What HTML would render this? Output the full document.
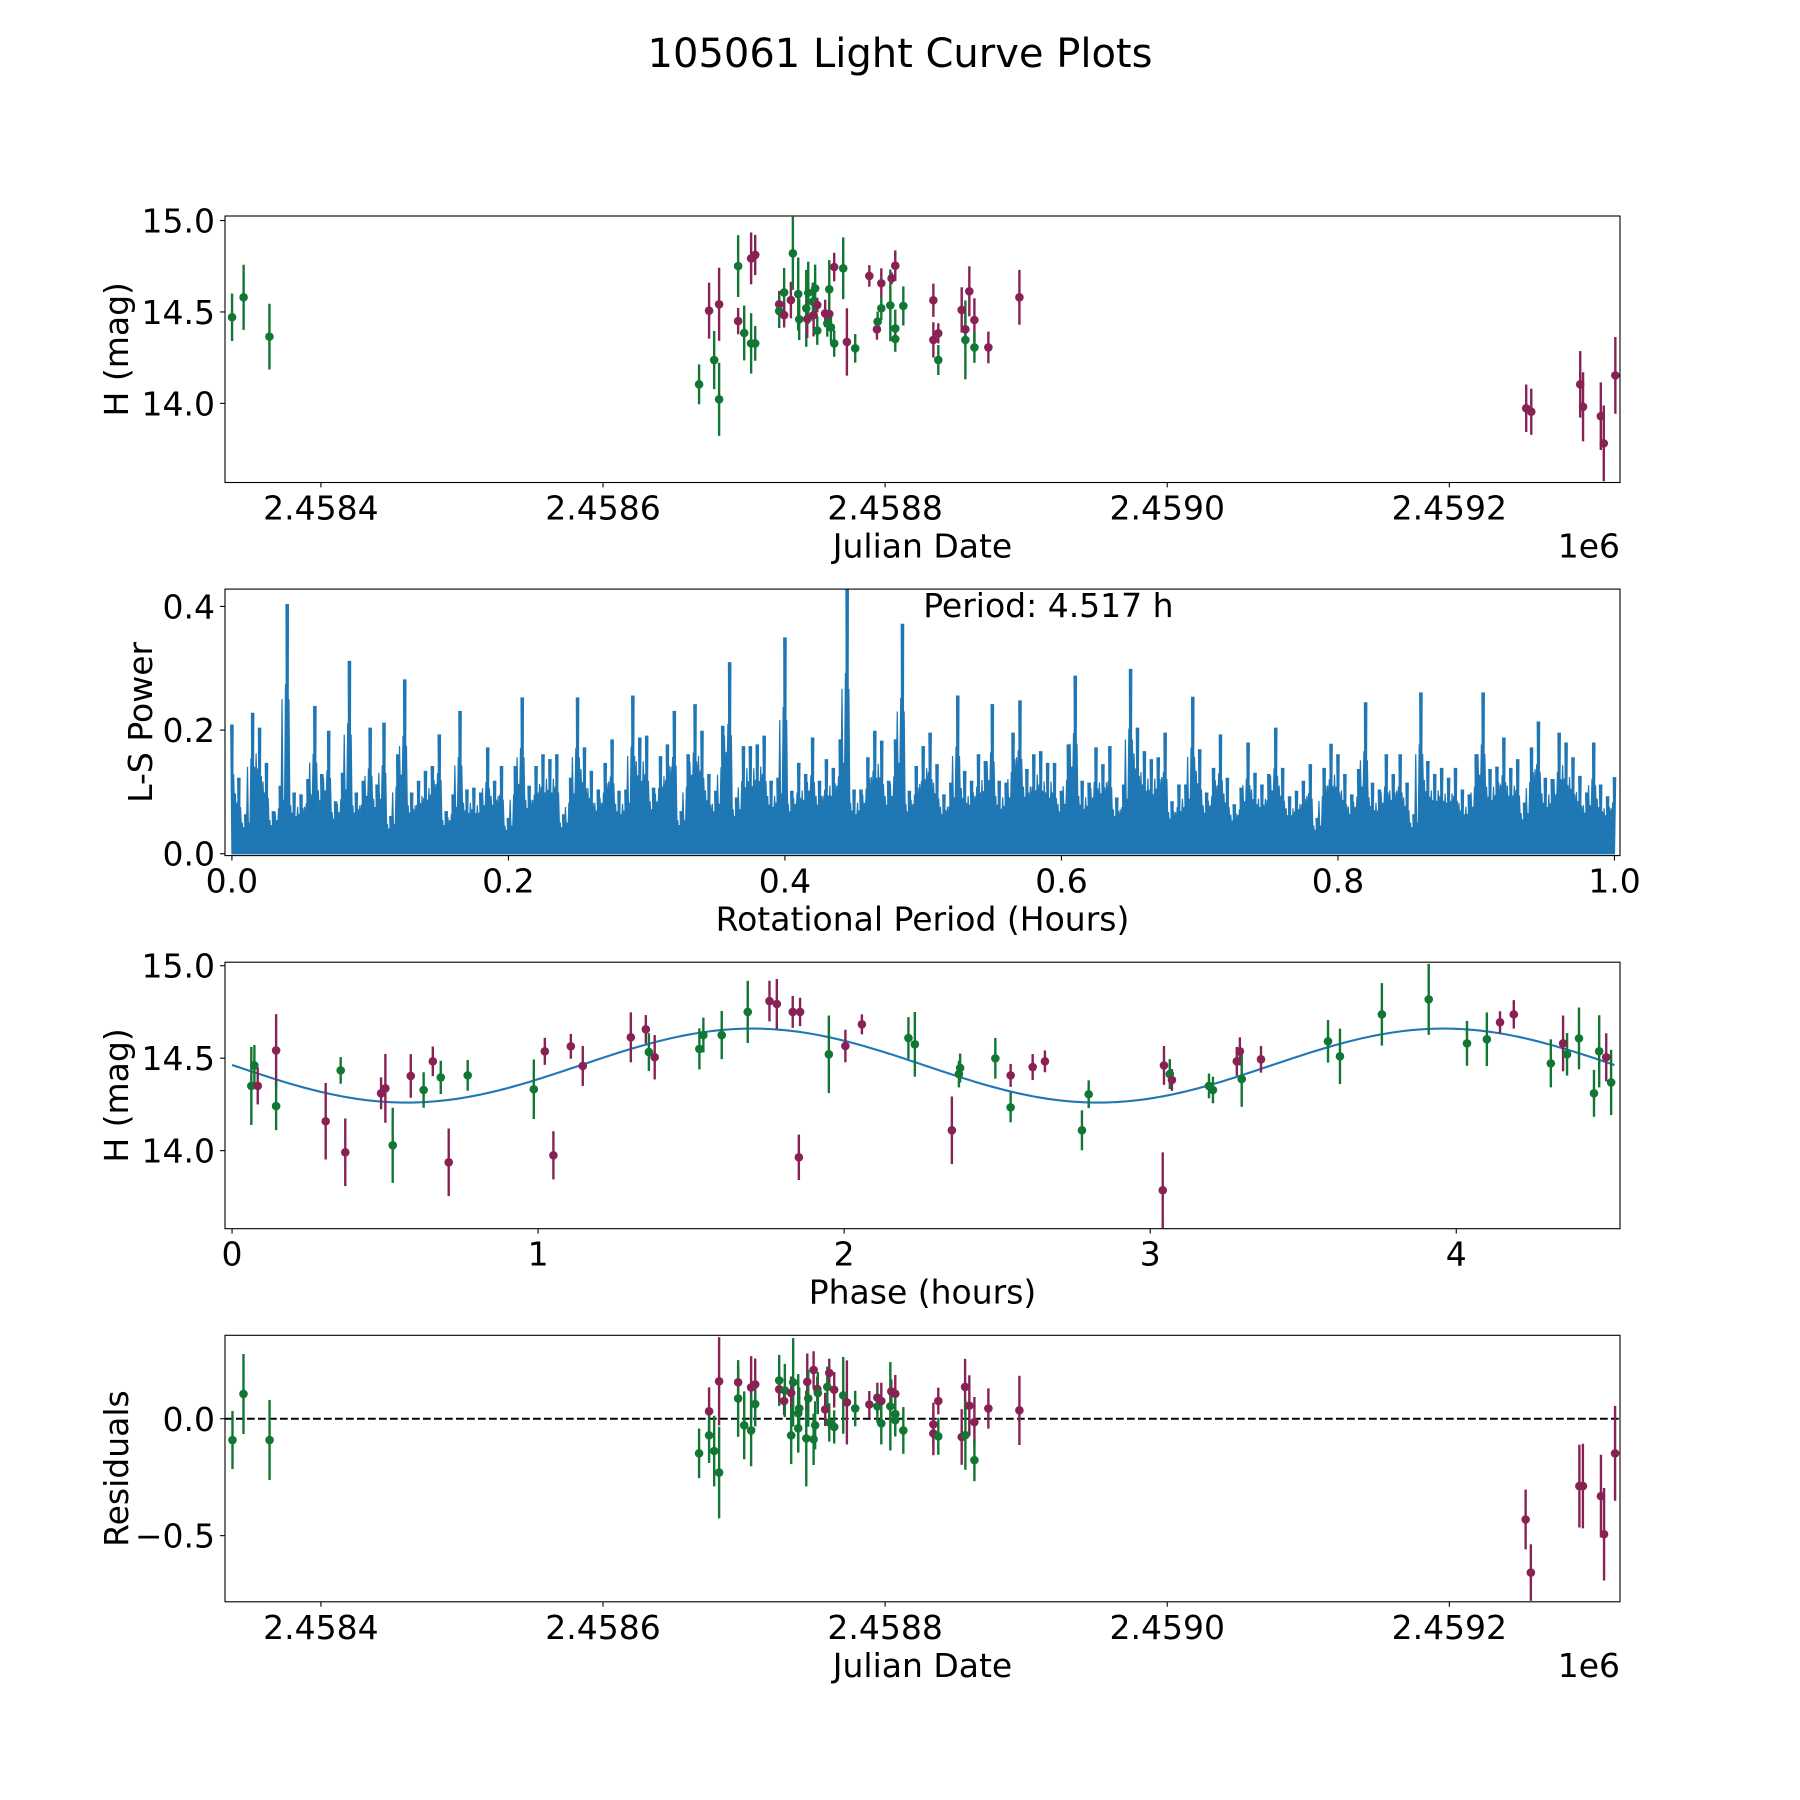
<!DOCTYPE html>
<html><head><meta charset="utf-8"><title>105061 Light Curve Plots</title>
<style>html,body{margin:0;padding:0;background:#fff}svg{display:block}text{font-family:"DejaVu Sans","Liberation Sans",sans-serif;fill:#000}</style>
</head><body>
<svg id="fig" width="1800" height="1800" viewBox="0 0 1800 1800" xmlns="http://www.w3.org/2000/svg">
<rect x="0" y="0" width="1800" height="1800" fill="#fff"/>
<text x="900" y="67" font-size="40" text-anchor="middle">105061 Light Curve Plots</text>
</svg>
<script>
// ---- Panel 1: light curve vs Julian Date (days offset from 2458000) ----
const p1Jd=[337.0,345.2,363.5,668.1,675.2,678.8,682.3,682.3,695.8,695.8,700.1,705,707.9,705,707.9,724.9,724.9,728.4,728.4,733.2,734.6,738.4,739.1,744.1,744.8,745.5,749.3,748.8,750.4,751.9,751.9,757.5,760.4,759,761.6,760.4,763.9,763.9,770.3,772.9,778.8,788.8,797.3,794.2,794.7,797.3,804.6,807.2,803.7,807.2,807.2,812.9,834.2,834.2,837.7,837.7,854.3,859.7,856.9,856.9,863.3,863.3,873.2,895.2,1254.5,1258.1,1292.8,1294.8,1307.4,1309.5,1317.7];
const p1Mag=[14.471,14.580,14.365,14.104,14.507,14.237,14.542,14.022,14.751,14.450,14.385,14.793,14.812,14.328,14.328,14.542,14.505,14.607,14.483,14.565,14.821,14.598,14.460,14.520,14.461,14.605,14.483,14.556,14.629,14.538,14.398,14.492,14.489,14.438,14.416,14.624,14.746,14.328,14.739,14.336,14.301,14.697,14.657,14.405,14.447,14.520,14.684,14.753,14.536,14.410,14.352,14.533,14.564,14.347,14.383,14.237,14.511,14.613,14.405,14.347,14.456,14.306,14.306,14.580,13.973,13.954,14.104,13.981,13.930,13.781,14.153];
const p1Err=[0.130,0.178,0.18,0.109,0.153,0.159,0.2,0.2,0.169,0.072,0.15,0.142,0.11,0.165,0.095,0.073,0.093,0.134,0.068,0.1,0.2,0.2,0.114,0.21,0.103,0.17,0.117,0.105,0.13,0.04,0.078,0.075,0.077,0.073,0.08,0.16,0.078,0.073,0.169,0.184,0.078,0.059,0.082,0.057,0.055,0.064,0.032,0.084,0.196,0.103,0.07,0.107,0.091,0.097,0.055,0.082,0.124,0.137,0.096,0.216,0.119,0.084,0.087,0.15,0.13,0.126,0.182,0.189,0.185,0.207,0.21];
const p1Band=["g","g","g","g","r","g","r","g","g","r","g","r","r","g","g","r","g","g","r","r","g","g","g","g","r","g","r","g","g","r","g","r","r","g","g","g","r","g","g","r","g","r","r","r","g","g","r","r","g","g","g","g","r","r","r","g","r","r","r","g","r","g","r","r","r","r","r","r","r","r","r"];
const p1XTicks=[400,600,800,1000,1200];
const p1XTickLabels=["2.4584","2.4586","2.4588","2.4590","2.4592"];
const p1YTicks=[14.0,14.5,15.0];
const p1YTickLabels=["14.0","14.5","15.0"];

// ---- Panel 2: Lomb-Scargle periodogram envelope, sampled every 0.005 h ----
const p2Step=0.005;
const p2Power=[0.208,0.122,0.063,0.227,0.203,0.146,0.068,0.109,0.403,0.098,0.095,0.12,0.238,0.128,0.198,0.084,0.13,0.311,0.098,0.117,0.203,0.111,0.211,0.06,0.16,0.281,0.098,0.117,0.133,0.141,0.192,0.068,0.095,0.23,0.103,0.106,0.098,0.171,0.117,0.141,0.057,0.141,0.252,0.109,0.141,0.16,0.152,0.16,0.063,0.122,0.252,0.171,0.133,0.103,0.146,0.184,0.101,0.103,0.255,0.187,0.19,0.106,0.157,0.176,0.23,0.068,0.16,0.241,0.198,0.128,0.101,0.206,
0.309,0.09,0.173,0.173,0.176,0.19,0.117,0.122,0.349,0.101,0.146,0.128,0.187,0.117,0.152,0.138,0.184,0.43,0.103,0.103,0.155,0.198,0.182,0.117,0.184,0.371,0.101,0.141,0.173,0.195,0.144,0.095,0.114,0.255,0.133,0.117,0.16,0.149,0.241,0.117,0.114,0.195,0.247,0.136,0.16,0.165,0.146,0.146,0.101,0.176,0.287,0.117,0.114,0.171,0.144,0.173,0.09,0.111,0.298,0.203,0.165,0.152,0.155,0.195,0.084,0.111,0.111,0.253,0.168,0.098,0.138,0.192,
0.122,0.079,0.106,0.179,0.13,0.111,0.128,0.203,0.138,0.092,0.101,0.117,0.144,0.057,0.138,0.177,0.16,0.128,0.095,0.136,0.244,0.114,0.103,0.16,0.128,0.16,0.114,0.063,0.26,0.149,0.128,0.138,0.122,0.138,0.103,0.095,0.16,0.26,0.136,0.14,0.187,0.138,0.152,0.082,0.171,0.213,0.122,0.12,0.195,0.179,0.155,0.125,0.098,0.179,0.111,0.092,0.123];
const p2XTicks=[0,0.2,0.4,0.6,0.8,1.0];
const p2XTickLabels=["0.0","0.2","0.4","0.6","0.8","1.0"];
const p2YTicks=[0,0.2,0.4];
const p2YTickLabels=["0.0","0.2","0.4"];
const p2Annotation="Period: 4.517 h";

// ---- Panel 3: folded light curve ----
const p3Phase=[0.063,0.073,0.084,0.144,0.144,0.306,0.370,0.355,0.487,0.501,0.525,0.584,0.626,0.656,0.682,0.708,0.770,0.986,1.022,1.050,1.107,1.146,1.303,1.352,1.362,1.381,1.527,1.540,1.600,1.685,1.756,1.780,1.832,1.856,1.852,1.950,2.004,2.058,2.210,2.231,2.352,2.375,2.379,2.494,2.544,2.544,2.616,2.656,2.777,2.799,3.041,3.045,3.064,3.071,3.192,3.205,3.283,3.293,3.299,3.362,3.581,3.620,3.757,3.910,4.035,4.100,4.143,4.188,4.309,4.349,4.362,4.401,4.450,4.467,4.490,4.506];
const p3Mag=[14.350,14.461,14.350,14.542,14.241,14.159,13.991,14.434,14.310,14.337,14.029,14.404,14.328,14.483,14.396,13.937,14.407,14.332,14.537,13.975,14.564,14.458,14.613,14.656,14.533,14.505,14.550,14.625,14.625,14.750,14.809,14.793,14.750,14.750,13.964,14.521,14.566,14.683,14.609,14.575,14.110,14.414,14.447,14.499,14.407,14.234,14.452,14.483,14.110,14.305,13.786,14.461,14.414,14.382,14.350,14.328,14.483,14.537,14.387,14.494,14.591,14.510,14.737,14.818,14.580,14.602,14.694,14.737,14.472,14.580,14.521,14.607,14.310,14.537,14.505,14.369];
const p3Err=[0.211,0.11,0.1,0.196,0.13,0.207,0.183,0.072,0.086,0.186,0.203,0.118,0.096,0.08,0.09,0.183,0.083,0.161,0.073,0.13,0.067,0.108,0.135,0.077,0.102,0.12,0.111,0.094,0.13,0.168,0.11,0.135,0.086,0.077,0.123,0.21,0.088,0.054,0.113,0.175,0.183,0.072,0.078,0.11,0.062,0.081,0.07,0.059,0.108,0.075,0.205,0.105,0.081,0.059,0.067,0.072,0.078,0.076,0.15,0.072,0.115,0.15,0.169,0.192,0.121,0.145,0.06,0.077,0.13,0.151,0.115,0.167,0.127,0.195,0.13,0.176];
const p3Band=["g","g","r","r","g","r","r","g","r","r","g","r","g","r","g","r","g","g","r","r","r","r","r","r","g","r","g","g","g","g","r","r","r","r","r","g","r","r","g","g","r","g","g","g","r","g","r","r","g","g","r","r","g","r","g","g","r","r","g","r","g","g","g","g","g","g","r","r","g","r","g","g","g","g","r","g"];
const fitMean=14.46, fitAmp=0.2, fitPeakPhase=1.70, fitPeriod=4.517;
const p3XTicks=[0,1,2,3,4];
const p3XTickLabels=["0","1","2","3","4"];
const p3YTicks=[14.0,14.5,15.0];
const p3YTickLabels=["14.0","14.5","15.0"];

// ---- Panel 4: residuals vs Julian Date ----
const p4Jd=[337.3,345.1,363.6,668.1,675.2,675.2,678.8,682.3,682.3,695.8,695.8,700.1,705,707.9,705,707.9,724.9,724.9,728.4,728.9,733.4,734.8,733.4,738.4,738.4,739.1,744.1,744.8,745.5,749.3,749.3,750.4,751.9,752.3,757.5,760.4,759,760.4,763.9,763.9,770.3,772.9,778.8,788.8,794.5,794.5,797.3,797.3,804.4,807.2,803.7,807.2,807.2,812.9,834.2,834.2,837.7,837.7,854.3,856.7,859.7,856.9,863.3,863.3,873.2,895.2,1254.1,1257.8,1292.2,1294.7,1307.5,1309.7,1317.5];
const p4Res=[-0.091,0.106,-0.091,-0.148,0.032,-0.071,-0.138,0.160,-0.230,0.156,0.087,-0.028,0.134,0.147,-0.050,0.063,0.164,0.126,0.076,0.121,0.110,0.156,-0.071,0.023,-0.041,0.044,-0.084,0.158,0.087,0.209,-0.088,-0.028,0.127,0.110,0.040,0.196,0.136,-0.016,-0.035,0.124,0.100,0.070,0.044,0.061,0.090,0.053,0.076,-0.020,0.117,0.107,0.053,0.020,-0.006,-0.050,-0.024,-0.063,0.076,-0.075,-0.078,0.136,0.056,-0.070,-0.014,-0.177,0.044,0.036,-0.431,-0.658,-0.288,-0.288,-0.331,-0.494,-0.148];
const p4Err=[0.124,0.171,0.171,0.106,0.102,0.118,0.151,0.189,0.196,0.07,0.164,0.145,0.134,0.111,0.153,0.096,0.109,0.053,0.061,0.114,0.071,0.189,0.123,0.168,0.1,0.09,0.205,0.121,0.121,0.08,0.11,0.103,0.053,0.09,0.071,0.061,0.087,0.082,0.071,0.076,0.164,0.18,0.076,0.058,0.064,0.07,0.078,0.09,0.051,0.08,0.189,0.088,0.07,0.1,0.093,0.093,0.057,0.079,0.119,0.12,0.13,0.148,0.107,0.09,0.086,0.148,0.128,0.121,0.177,0.181,0.177,0.198,0.203];
const p4Band=["g","g","g","g","r","g","g","r","g","r","g","g","r","r","g","g","g","r","r","g","r","g","g","g","g","g","g","r","g","r","g","g","r","g","r","r","g","g","g","r","g","r","g","r","r","g","r","g","r","r","g","g","g","g","r","r","r","g","r","r","r","g","r","g","r","r","r","r","r","r","r","r","r"];
const p4YTicks=[-0.5,0.0];
const p4YTickLabels=["\u22120.5","0.0"];

const NS="http://www.w3.org/2000/svg";
const svg=document.getElementById('fig');
const COL={g:"#117733",r:"#882255"};
const AX_L=225, AX_R=1620, AX_H=266.5;
const tops=[216,589.1,962.2,1335.3];
function mk(tag,attrs,parent){const e=document.createElementNS(NS,tag);for(const k in attrs)e.setAttribute(k,attrs[k]);(parent||svg).appendChild(e);return e;}
function lin(d0,d1,r0,r1){return v=>r0+(v-d0)/(d1-d0)*(r1-r0);}

function axesFrame(i,xs,ys,xt,xtl,yt,ytl,xlabel,ylabel,ylabX,offsetText){
  const top=tops[i],bot=top+AX_H;
  const g=mk('g',{});
  
  
  xt.forEach((v,j)=>{
    const x=xs(v);
    const t=mk('line',{x1:x,x2:x,y1:bot,y2:bot+4.9,stroke:'#000','stroke-width':1.1},g);
    
    
    const l=mk('text',{x:x,y:bot+37,'font-size':33,'text-anchor':'middle'},g);
    
    
    l.textContent=xtl[j];
  });
  yt.forEach((v,j)=>{
    const y=ys(v);
    const t=mk('line',{x1:AX_L-4.9,x2:AX_L,y1:y,y2:y,stroke:'#000','stroke-width':1.1},g);
    
    
    const l=mk('text',{x:AX_L-10,y:y+12,'font-size':33,'text-anchor':'end'},g);
    
    
    l.textContent=ytl[j];
  });
  const xl=mk('text',{x:(AX_L+AX_R)/2,y:bot+75,'font-size':33,'text-anchor':'middle'},g);
  
  
  xl.textContent=xlabel;
  const yl=mk('text',{x:0,y:0,'font-size':33,'text-anchor':'middle',transform:'translate('+ylabX+','+(top+AX_H/2)+') rotate(-90)'},g);
  
  
  yl.textContent=ylabel;
  if(offsetText){
    const o=mk('text',{x:AX_R,y:bot+75,'font-size':33,'text-anchor':'end'},g);
    
    
    o.textContent=offsetText;
  }
  return g;
}
function spine(i){
  const r=mk('rect',{x:AX_L,y:tops[i],width:AX_R-AX_L,height:AX_H,fill:'none',stroke:'#000','stroke-width':1.1});
  
  
}
function clip(i){
  const c=mk('clipPath',{id:'clip'+i});
  mk('rect',{x:AX_L,y:tops[i],width:AX_R-AX_L,height:AX_H},c);
  const g=mk('g',{'clip-path':'url(#clip'+i+')'});
  return g;
}
function errPoints(g,xs,ys,X,Y,E,B,name){
  X.forEach((xv,j)=>{
    const x=xs(xv),c=COL[B[j]];
    const b=mk('line',{x1:x,x2:x,y1:ys(Y[j]-E[j]),y2:ys(Y[j]+E[j]),stroke:c,'stroke-width':2.4},g);
    
    
  });
  X.forEach((xv,j)=>{
    const p=mk('circle',{cx:xs(xv),cy:ys(Y[j]),r:4.3,fill:COL[B[j]]},g);
    
    
  });
}

// Panel 1
{
  const top=tops[0],xs=lin(332,1321,AX_L,AX_R),ys=lin(15.025,13.567,top,top+AX_H);
  const g=clip(0);
  errPoints(g,xs,ys,p1Jd,p1Mag,p1Err,p1Band,'lightcurve');
  axesFrame(0,xs,ys,p1XTicks,p1XTickLabels,p1YTicks,p1YTickLabels,'Julian Date','H (mag)',128,'1e6');
  spine(0);
}
// Panel 2
{
  const top=tops[1],xs=lin(-0.005,1.004,AX_L,AX_R),ys=lin(0.428,-0.003,top,top+AX_H);
  const g=clip(1);
  let d='M'+xs(0)+' '+ys(0);
  for(let k=0;k<p2Power.length;k++){
    const xc=xs(k*p2Step),yv=ys(p2Power[k]);
    d+=' L'+(xc-1.2)+' '+yv+' L'+(xc+1.2)+' '+yv;
    if(k<p2Power.length-1){
      const a=p2Power[k],b=p2Power[k+1],vm=Math.min(a,b);
      const x1=xs((k+0.25)*p2Step),x2=xs((k+0.5)*p2Step),x3=xs((k+0.75)*p2Step);
      d+=' L'+(x1-1)+' '+ys(vm*0.55)+' L'+x1+' '+ys(Math.max(a,b)*0.62)+' L'+(x1+1)+' '+ys(vm*0.55);
      d+=' L'+(x2-1)+' '+ys(vm*0.45)+' L'+x2+' '+ys(vm*0.8)+' L'+(x2+1)+' '+ys(vm*0.45);
      d+=' L'+(x3-1)+' '+ys(vm*0.55)+' L'+x3+' '+ys(b*0.68)+' L'+(x3+1)+' '+ys(vm*0.55);
    }
  }
  d+=' L'+xs((p2Power.length-1)*p2Step)+' '+ys(0)+' Z';
  const p=mk('path',{d:d,fill:'#1f77b4',stroke:'#1f77b4','stroke-width':1.2,'stroke-linejoin':'miter'},g);
  
  
  const t=mk('text',{x:xs(0.5),y:617,'font-size':33});
  
  
  t.textContent=p2Annotation;
  axesFrame(1,xs,ys,p2XTicks,p2XTickLabels,p2YTicks,p2YTickLabels,'Rotational Period (Hours)','L-S Power',152,null);
  spine(1);
}
// Panel 3
{
  const top=tops[2],xs=lin(-0.023,4.535,AX_L,AX_R),ys=lin(15.019,13.578,top,top+AX_H);
  const g=clip(2);
  let d='';
  for(let k=0;k<=300;k++){
    const ph=fitPeriod*k/300;
    const m=fitMean+fitAmp*Math.cos(2*Math.PI*(ph-fitPeakPhase)/(fitPeriod/2));
    d+=(k?' L':'M')+xs(ph)+' '+ys(m);
  }
  const l=mk('path',{d:d,fill:'none',stroke:'#1f77b4','stroke-width':2.1},g);
  
  
  errPoints(g,xs,ys,p3Phase,p3Mag,p3Err,p3Band,'folded');
  axesFrame(2,xs,ys,p3XTicks,p3XTickLabels,p3YTicks,p3YTickLabels,'Phase (hours)','H (mag)',128,null);
  spine(2);
}
// Panel 4
{
  const top=tops[3],xs=lin(332,1321,AX_L,AX_R),ys=lin(0.357,-0.783,top,top+AX_H);
  const g=clip(3);
  const z=mk('line',{x1:AX_L,x2:AX_R,y1:ys(0),y2:ys(0),stroke:'#000','stroke-width':2.1,'stroke-dasharray':'7.7 3.3'},g);
  
  
  errPoints(g,xs,ys,p4Jd,p4Res,p4Err,p4Band,'residual');
  axesFrame(3,xs,ys,p1XTicks,p1XTickLabels,p4YTicks,p4YTickLabels,'Julian Date','Residuals',128,'1e6');
  spine(3);
}
</script>
</body></html>
